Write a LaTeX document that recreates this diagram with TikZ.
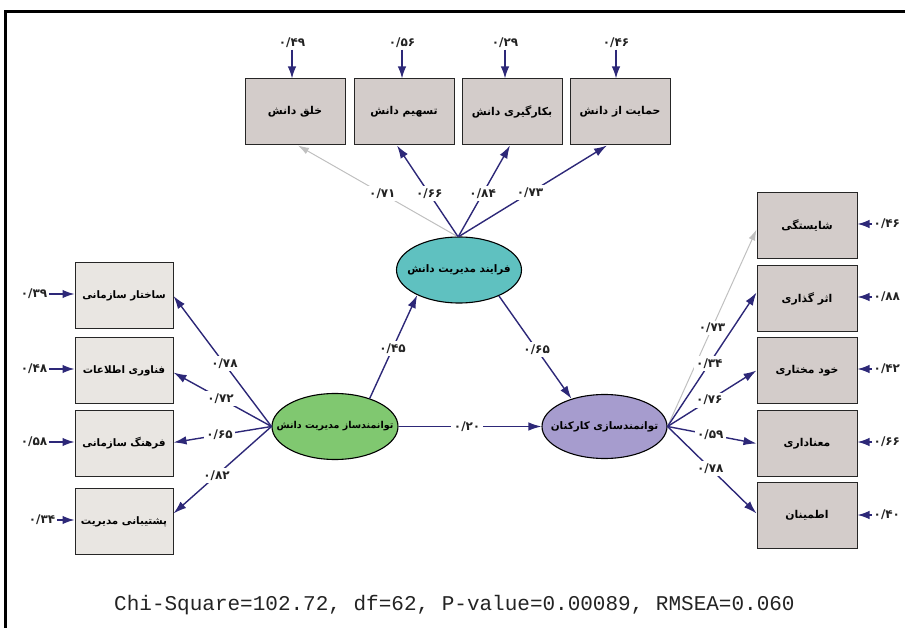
\documentclass[tikz,border=0pt]{standalone}
\usepackage{fontspec}
\usetikzlibrary{shapes.geometric,arrows.meta}
\TeXXeTstate=1
\newfontfamily\fa[Script=Arabic]{DejaVu Sans}
\newfontfamily\monof{Liberation Mono}
\newcommand\rl[1]{{\fa\bfseries\beginR #1\endR}}
\definecolor{navy}{RGB}{45,40,120}
\definecolor{boxA}{RGB}{211,204,202}
\definecolor{boxB}{RGB}{233,230,226}
\definecolor{tealc}{RGB}{95,193,192}
\definecolor{greenc}{RGB}{128,200,112}
\definecolor{purpc}{RGB}{166,156,206}
\definecolor{grayc}{RGB}{192,192,192}
\definecolor{txtc}{RGB}{35,35,35}
\tikzset{
  obsbox/.style={draw=black!85, line width=1pt, fill=boxA, minimum width=100pt, minimum height=66pt, inner sep=0pt, font=\fontsize{10.8}{13}\selectfont},
  obsboxL/.style={obsbox, fill=boxB, minimum width=98pt, font=\fontsize{10.3}{13}\selectfont},
  latent/.style={ellipse, draw=black, line width=1.1pt, inner sep=0pt, minimum width=125pt, minimum height=66pt, font=\fa\bfseries\fontsize{10.4}{12}\selectfont},
  num/.style={font=\fa\bfseries\fontsize{12}{14}\selectfont, text=txtc, inner sep=1.5pt},
  elab/.style={num, fill=white, inner sep=2.5pt},
  path/.style={draw=navy, line width=1.4pt, -{Latex[length=13pt,width=8.5pt]}},
  gpath/.style={draw=grayc, line width=1pt, -{Latex[length=11pt,width=7pt]}},
  resid/.style={draw=navy, line width=1.4pt, -{Latex[length=12pt,width=8.5pt]}}
}
\begin{document}
\begin{tikzpicture}[x=1pt,y=-1pt]
\useasboundingbox (0,0) rectangle (905,628);
% frame
\draw[line width=3.2pt] (5.5,640) -- (5.5,11.3) -- (920,11.3);

% latent variables
\node[latent, fill=tealc] (e1) at (459,270) {\makebox[0pt]{\beginR فرایند مدیریت دانش\endR}};
\node[latent, fill=greenc, minimum width=126pt, font=\fa\bfseries\fontsize{9.5}{12}\selectfont] (e2) at (335,426.5) {\makebox[0pt]{\beginR توانمندساز مدیریت دانش\endR}};
\node[latent, fill=purpc, minimum height=64pt] (e3) at (604.5,426.5) {\makebox[0pt]{\beginR توانمندسازی کارکنان\endR}};

% top boxes
\node[obsbox] (t1) at (295,112) {\rl{خلق دانش}};
\node[obsbox] (t2) at (404,112) {\rl{تسهیم دانش}};
\node[obsbox] (t3) at (512,112) {\rl{بکارگیری دانش}};
\node[obsbox] (t4) at (620,112) {\rl{حمایت از دانش}};

% left boxes
\node[obsboxL] (l1) at (124,296) {\rl{ساختار سازمانی}};
\node[obsboxL] (l2) at (124,370.5) {\rl{فناوری اطلاعات}};
\node[obsboxL] (l3) at (124,443.5) {\rl{فرهنگ سازمانی}};
\node[obsboxL] (l4) at (124,521.5) {\rl{پشتیبانی مدیریت}};

% right boxes
\node[obsbox] (r1) at (807,225.5) {\rl{شایستگی}};
\node[obsbox] (r2) at (807,298.5) {\rl{اثر گذاری}};
\node[obsbox] (r3) at (807,370.5) {\rl{خود مختاری}};
\node[obsbox] (r4) at (807,443.5) {\rl{معناداری}};
\node[obsbox] (r5) at (807,515.5) {\rl{اطمینان}};

% residual labels
\node[num] (dt1) at (292,43) {۰/۴۹};
\node[num] (dt2) at (402,43) {۰/۵۶};
\node[num] (dt3) at (505,43) {۰/۲۹};
\node[num] (dt4) at (616,43) {۰/۴۶};
\node[num] (dl1) at (34,294) {۰/۳۹};
\node[num] (dl2) at (34,369) {۰/۴۸};
\node[num] (dl3) at (34,442) {۰/۵۸};
\node[num] (dl4) at (42,520) {۰/۳۴};
\node[num, anchor=west] (dr1) at (872,224) {۰/۴۶};
\node[num, anchor=west] (dr2) at (872,297) {۰/۸۸};
\node[num, anchor=west] (dr3) at (872,369) {۰/۴۲};
\node[num, anchor=west] (dr4) at (872,442) {۰/۶۶};
\node[num, anchor=west] (dr5) at (872,515) {۰/۴۰};

% residual arrows
\foreach \i in {1,...,4}{
  \draw[resid] (dt\i.south) -- (dt\i.south |- t\i.north);
  \draw[resid] (dl\i.east) -- (dl\i.east -| l\i.west);
}
\foreach \i in {1,...,5}{
  \draw[resid] (dr\i.west) -- (dr\i.west -| r\i.east);
}

% loadings of e1
\draw[gpath] (e1.93) -- node[elab, pos=0.47] {۰/۷۱} ([xshift=3pt]t1.south);
\draw[path] (e1.92) -- node[elab, pos=0.47] {۰/۶۶} ([xshift=-7pt]t2.south);
\draw[path] (e1.91) -- node[elab, pos=0.47] {۰/۸۴} ([xshift=-2pt]t3.south);
\draw[path] (e1.90) -- node[elab, pos=0.48] {۰/۷۳} ([xshift=-13pt]t4.south);

% loadings of e2
\draw[path] (e2.west) -- node[elab, pos=0.48] {۰/۷۸} (l1.east);
\draw[path] (e2.west) -- node[elab, pos=0.52] {۰/۷۲} ([yshift=-2pt]l2.east);
\draw[path] (e2.west) -- node[elab, pos=0.53] {۰/۶۵} ([yshift=1pt]l3.east);
\draw[path] (e2.west) -- node[elab, pos=0.56] {۰/۸۲} ([yshift=8pt]l4.east);

% loadings of e3
\draw[gpath] (e3.east) -- node[elab, pos=0.5] {۰/۷۳} ([yshift=-4pt]r1.west);
\draw[path] (e3.east) -- node[elab, pos=0.47] {۰/۳۴} ([yshift=6pt]r2.west);
\draw[path] (e3.east) -- node[elab, pos=0.47] {۰/۷۶} (r3.west);
\draw[path] (e3.east) -- node[elab, pos=0.48] {۰/۵۹} (r4.west);
\draw[path] (e3.east) -- node[elab, pos=0.48] {۰/۷۸} ([yshift=2pt]r5.west);

% structural paths
\draw[path] (e2.39) -- node[elab, pos=0.48] {۰/۴۵} (e1.211);
\draw[path] (e1.327) -- node[elab, pos=0.52] {۰/۶۵} (e3.140);
\draw[path] (e2.east) -- node[elab, pos=0.48] {۰/۲۰} (e3.west);

% fit statistics
\node[anchor=west, inner sep=0pt, text=txtc, font=\monof\fontsize{21}{24}\selectfont] (fit) at (114,605) {Chi-Square=102.72, df=62, P-value=0.00089, RMSEA=0.060};
\end{tikzpicture}
\end{document}
